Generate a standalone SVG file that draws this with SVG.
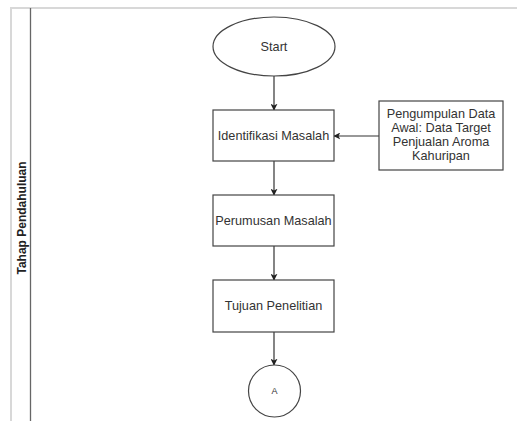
<svg xmlns="http://www.w3.org/2000/svg" width="517" height="421" viewBox="0 0 517 421">
<style>
.shape{fill:#fff;stroke:#444;stroke-width:1.2}
.t{font-family:"Liberation Sans",Arial,sans-serif;font-size:12.7px;fill:#333;text-anchor:middle;dominant-baseline:central}
.edge{fill:none;stroke:#333;stroke-width:1.2}
</style>
<defs>
<marker id="ah" viewBox="0 0 10 10" refX="9" refY="5" markerWidth="7" markerHeight="7" markerUnits="userSpaceOnUse" orient="auto">
<path d="M0,0 L10,5 L0,10 L2.5,5 z" fill="#222"/>
</marker>
</defs>
<rect width="517" height="421" fill="#fff"/>
<g id="lane">
<path d="M517,8 H11 V421" fill="none" stroke="#d8d8d8" stroke-width="2"/>
<line x1="30.5" y1="8" x2="30.5" y2="421" stroke="#666" stroke-width="1.3"/>
<text transform="translate(26,218) rotate(-90)" font-family="'Liberation Sans',Arial,sans-serif" font-size="12px" font-weight="bold" fill="#222" text-anchor="middle">Tahap Pendahuluan</text>
</g>
<g id="edges">
<line class="edge" x1="274" y1="76" x2="274" y2="110" marker-end="url(#ah)"/>
<line class="edge" x1="379" y1="136" x2="334" y2="136" marker-end="url(#ah)"/>
<line class="edge" x1="274" y1="161" x2="274" y2="195" marker-end="url(#ah)"/>
<line class="edge" x1="274" y1="246" x2="274" y2="280" marker-end="url(#ah)"/>
<line class="edge" x1="274" y1="332" x2="274" y2="365" marker-end="url(#ah)"/>
</g>
<g id="start">
<ellipse class="shape" cx="274" cy="46.5" rx="61" ry="29.5"/>
<text class="t" x="274" y="46.5">Start</text>
</g>
<g id="identifikasi">
<rect class="shape" x="213" y="110" width="121" height="51"/>
<text class="t" x="273.5" y="135.5">Identifikasi Masalah</text>
</g>
<g id="pengumpulan">
<rect class="shape" x="379" y="101" width="124" height="69"/>
<text class="t" x="441" y="114">Pengumpulan Data</text>
<text class="t" x="441" y="128">Awal: Data Target</text>
<text class="t" x="441" y="142">Penjualan Aroma</text>
<text class="t" x="441" y="156">Kahuripan</text>
</g>
<g id="perumusan">
<rect class="shape" x="213" y="195" width="121" height="51"/>
<text class="t" x="273.5" y="221">Perumusan Masalah</text>
</g>
<g id="tujuan">
<rect class="shape" x="213" y="280" width="121" height="52"/>
<text class="t" x="273.5" y="306">Tujuan Penelitian</text>
</g>
<g id="connectorA">
<circle class="shape" cx="274.5" cy="391" r="26"/>
<text class="t" x="274.5" y="391" style="font-size:9px">A</text>
</g>
</svg>
